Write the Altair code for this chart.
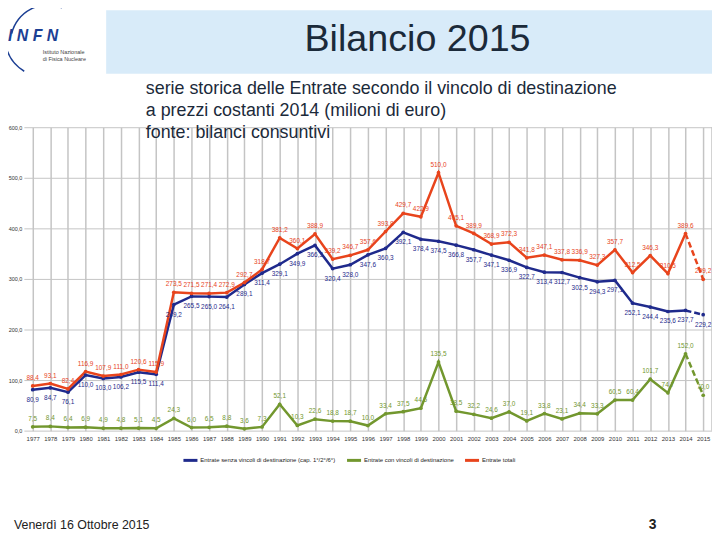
import altair as alt
import pandas as pd

years = list(range(1977, 2016))
senza = [80.9, 84.7, 76.1, 110.0, 103.0, 106.2, 115.5, 111.4, 249.2, 265.5,
         265.0, 264.1, 289.1, 311.4, 329.1, 349.9, 366.3, 320.4, 328.0, 347.6,
         360.3, 392.1, 378.4, 374.5, 366.8, 357.7, 347.1, 336.9, 322.7, 313.4,
         312.7, 302.5, 294.3, 297.1, 252.1, 244.4, 235.6, 237.7, 229.2]
con = [7.5, 8.4, 6.4, 6.9, 4.9, 4.8, 5.1, 4.5, 24.3, 6.0,
       6.5, 8.8, 3.6, 7.3, 52.1, 10.3, 22.6, 18.8, 18.7, 10.0,
       33.4, 37.5, 44.5, 135.5, 38.5, 32.2, 24.6, 37.0, 19.1, 33.8,
       23.1, 34.4, 33.3, 60.5, 60.4, 101.7, 74.7, 152.0, 70.0]
totali = [88.4, 93.1, 82.4, 116.9, 107.9, 111.0, 120.6, 115.9, 273.5, 271.5,
          271.4, 272.9, 292.7, 318.7, 381.2, 360.1, 388.9, 339.2, 346.7, 357.6,
          393.8, 429.7, 422.9, 510.0, 405.1, 389.9, 368.9, 372.3, 341.8, 347.1,
          337.8, 336.9, 327.3, 357.7, 312.5, 346.3, 310.5, 389.6, 299.2]
series_names = ["Entrate senza vincoli di destinazione (cap. 1°/2°/6°)",
                "Entrate con vincoli di destinazione",
                "Entrate totali"]
series_colors = ["#1f2a8c", "#72972e", "#e8441c"]
y_ticks = [0, 100, 200, 300, 400, 500, 600]

rows = []
for name, vals in zip(series_names, [senza, con, totali]):
    for yr, v in zip(years, vals):
        rows.append({"anno": yr, "serie": name, "valore": v})
df = pd.DataFrame(rows)

W, H = 694, 306
PX, PY = 24, 126  # plot origin in page coordinates

def px(x):
    return x - PX

def py(y):
    return y - PY

FONT = "Liberation Sans"
GRID = "#c4c4c4"

# band scale: one band per year, vertical grid at the band edges
xs = alt.Scale(domain=years, paddingInner=0, paddingOuter=0)
ys = alt.Scale(domain=[0, 600], nice=False)

color = alt.Color(
    "serie:N",
    scale=alt.Scale(domain=series_names, range=series_colors),
    legend=alt.Legend(orient="none", legendX=px(183), legendY=py(453), direction="horizontal",
                      title=None, labelFontSize=6, labelFont=FONT, labelColor="#222",
                      symbolType="stroke", symbolStrokeWidth=3, symbolSize=200,
                      columnPadding=4, labelOffset=1, gridAlign="none"),
)

X = alt.X("anno:O", scale=xs,
          axis=alt.Axis(labelAngle=0, labelFontSize=6, labelFont=FONT, labelColor="#333",
                        grid=True, gridColor=GRID, gridWidth=1.5, bandPosition=0,
                        ticks=False, domain=False, title=None, labelPadding=5))
Y = alt.Y("valore:Q", scale=ys,
          axis=alt.Axis(values=y_ticks, labelExpr="replace(format(datum.value, '.1f'), '.', ',')",
                        labelFontSize=5.5, labelFont=FONT, labelColor="#333",
                        gridColor=GRID, ticks=False, domain=False, title=None,
                        labelPadding=2))

# closing vertical grid line at the right edge of the plot
right_edge = alt.Chart(pd.DataFrame({"k": [0]})).mark_rule(color=GRID, strokeWidth=1.5).encode(
    x=alt.value(W), y=alt.value(0), y2=alt.value(H))

base = alt.Chart(df).encode(x=X, y=Y, color=color)
solid = base.mark_line(strokeWidth=2.5).transform_filter("datum.anno <= 2014")
dashed = base.mark_line(strokeWidth=2.5, strokeDash=[6, 3]).transform_filter("datum.anno >= 2014")
pts = base.mark_point(filled=True, size=14, opacity=1)

lab_calc = "replace(format(datum.valore, '.1f'), '.', ',')"
labels = []
for name, col, dy in zip(series_names, series_colors, [10, -8, -8]):
    labels.append(
        alt.Chart(df).transform_filter(alt.datum.serie == name)
        .transform_calculate(lab=lab_calc)
        .mark_text(fontSize=6.5, font=FONT, color=col, dy=dy)
        .encode(x=alt.X("anno:O", scale=xs), y=alt.Y("valore:Q", scale=ys), text="lab:N")
    )

one = pd.DataFrame({"k": [0]})

banner = alt.Chart(one).mark_rect(color="#d8ebf9").encode(
    x=alt.value(px(107)), x2=alt.value(px(720)), y=alt.value(py(8)), y2=alt.value(py(72)))

title = alt.Chart(one).mark_text(fontSize=38, font=FONT, color="#1b2a3a", align="center",
                                 baseline="middle").encode(
    x=alt.value(px(421)), y=alt.value(py(38)), text=alt.value("Bilancio 2015"))

subtitle = alt.Chart(one).mark_text(fontSize=18, font=FONT, color="#1b2a3a", align="left",
                                    baseline="middle", lineBreak="\n", lineHeight=22).encode(
    x=alt.value(px(147)), y=alt.value(py(88)),
    text=alt.value("serie storica delle Entrate secondo il vincolo di destinazione\n"
                   "a prezzi costanti 2014 (milioni di euro)\nfonte: bilanci consuntivi"))

footer = alt.Chart(one).mark_text(fontSize=12.5, font=FONT, color="#222", align="left",
                                  baseline="middle").encode(
    x=alt.value(px(14)), y=alt.value(py(527)), text=alt.value("Venerdì 16 Ottobre 2015"))

pagenum = alt.Chart(one).mark_text(fontSize=14, font=FONT, fontWeight="bold", color="#222",
                                   align="center", baseline="middle").encode(
    x=alt.value(px(658)), y=alt.value(py(527)), text=alt.value("3"))

logo = alt.Chart(one).mark_text(fontSize=16, font=FONT, fontWeight="bold", fontStyle="italic",
                                color="#1c3f94", align="left", baseline="middle").encode(
    x=alt.value(px(8)), y=alt.value(py(34)), text=alt.value("I N F N"))

logo_small = alt.Chart(one).mark_text(fontSize=5.5, font=FONT, color="#444", align="left",
                                      baseline="middle", lineBreak="\n", lineHeight=7).encode(
    x=alt.value(px(43)), y=alt.value(py(50)),
    text=alt.value("Istituto Nazionale\ndi Fisica Nucleare"))

arc1 = alt.Chart(one).mark_arc(radius=38, radius2=36.5, theta=4.94, theta2=6.68,
                               color="#1c3f94").encode(
    x=alt.value(px(48)), y=alt.value(py(40)))
arc2 = alt.Chart(one).mark_arc(radius=41, radius2=39.5, theta=3.68, theta2=4.43,
                               color="#1c3f94").encode(
    x=alt.value(px(45)), y=alt.value(py(35)))

chart = alt.layer(
    banner, title, subtitle, footer, pagenum, logo, logo_small, arc1, arc2,
    right_edge, solid, dashed, pts, *labels
).properties(
    width=W, height=H,
    padding={"left": PX - 8, "top": PY - 8, "right": 0, "bottom": 100},
    autosize=alt.AutoSizeParams(type="none"),
    background="white",
).configure_view(stroke=None)

chart.save("out.html", embed_options={"renderer": "svg", "actions": False})
